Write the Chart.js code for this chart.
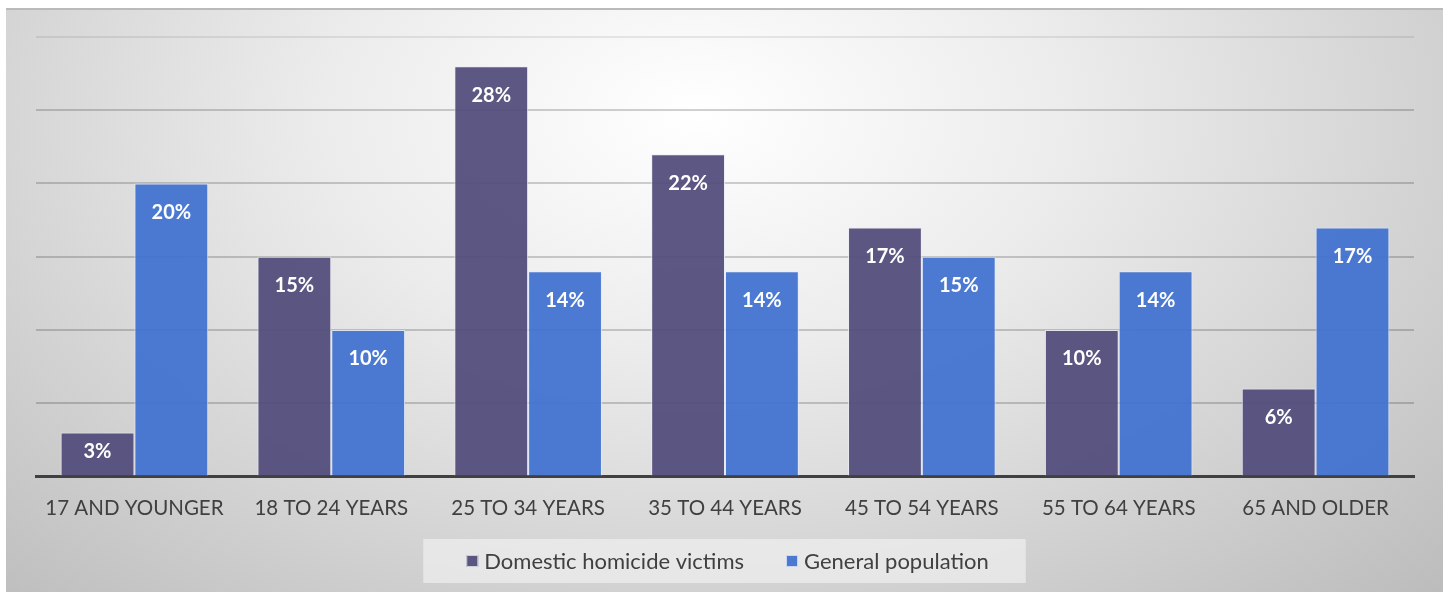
<!DOCTYPE html>
<html>
<head>
<meta charset="utf-8">
<script src="https://cdn.jsdelivr.net/npm/chart.js@4.4.1/dist/chart.umd.min.js"></script>
<style>
  html, body { margin: 0; padding: 0; background: #ffffff; }
  #frame {
    position: absolute; left: 6px; top: 8px; width: 1437px; height: 584px;
    border-top: 2px solid #bababa; box-sizing: border-box;
    background: radial-gradient(ellipse farthest-corner at 48% 18%, #ffffff 0%, #ececec 35%, #bcbcbc 100%);
  }
  #frame canvas { position: absolute; left: 0; top: 0; }
</style>
</head>
<body>
<div id="frame"><canvas id="chart" width="1437" height="582"></canvas></div>
<script>
const categories = ['17 AND YOUNGER', '18 TO 24 YEARS', '25 TO 34 YEARS', '35 TO 44 YEARS', '45 TO 54 YEARS', '55 TO 64 YEARS', '65 AND OLDER'];
const victims = [3, 15, 28, 22, 17, 10, 6];
const population = [20, 10, 14, 14, 15, 14, 17];
const seriesNames = ['Domestic homicide victims', 'General population'];

const FONT = 'Lato, "Open Sans", sans-serif';
const TEXT = '#404040';

// white bold labels just inside the top of each bar
const barLabels = {
  id: 'barLabels',
  afterDatasetsDraw(chart) {
    const ctx = chart.ctx;
    ctx.save();
    ctx.fillStyle = '#ffffff';
    ctx.font = 'bold 20px ' + FONT;
    ctx.textAlign = 'center';
    ctx.textBaseline = 'middle';
    chart.data.datasets.forEach((ds, i) => {
      chart.getDatasetMeta(i).data.forEach((bar, j) => {
        const y = Math.min(bar.y + 29, (bar.y + bar.base) / 2 - 2);
        ctx.fillText(ds.data[j] + '%', bar.x, y);
      });
    });
    ctx.restore();
  }
};

// legend on a light panel under the axis labels
const panelLegend = {
  id: 'panelLegend',
  afterDraw(chart) {
    const ctx = chart.ctx;
    const sets = chart.data.datasets;
    const box = 12, textGap = 6, itemGap = 42;
    ctx.save();
    ctx.font = '22px ' + FONT;
    const widths = sets.map(ds => box + textGap + ctx.measureText(ds.label).width);
    const total = widths.reduce((a, b) => a + b, 0) + itemGap * (sets.length - 1);
    const cy = chart.height - 31;
    let x = chart.width / 2 - total / 2 + 3;

    ctx.fillStyle = 'rgba(240,240,240,0.7)';
    ctx.fillRect(x - 43, cy - 22, total + 80, 44);

    ctx.textBaseline = 'middle';
    ctx.textAlign = 'left';
    sets.forEach((ds, i) => {
      ctx.fillStyle = ds.backgroundColor;
      ctx.fillRect(x, cy - box / 2, box, box);
      ctx.strokeStyle = 'rgba(255,255,255,0.7)';
      ctx.lineWidth = 1;
      ctx.strokeRect(x + 0.5, cy - box / 2 + 0.5, box - 1, box - 1);
      ctx.fillStyle = TEXT;
      ctx.fillText(ds.label, x + box + textGap, cy + 1);
      x += widths[i] + itemGap;
    });
    ctx.restore();
  }
};

new Chart(document.getElementById('chart'), {
  type: 'bar',
  data: {
    labels: categories,
    datasets: [
      {
        label: seriesNames[0],
        data: victims,
        backgroundColor: 'rgba(80,74,122,0.93)',
        borderColor: 'rgba(235,235,245,0.8)',
        borderWidth: 1,
      },
      {
        label: seriesNames[1],
        data: population,
        backgroundColor: 'rgba(63,113,208,0.93)',
        borderColor: 'rgba(225,235,255,0.8)',
        borderWidth: 1,
      },
    ],
  },
  options: {
    responsive: false,
    animation: false,
    layout: { padding: { left: 30, right: 29, top: 27, bottom: 59 } },
    datasets: { bar: { categoryPercentage: 0.75, barPercentage: 1 } },
    scales: {
      x: {
        grid: { display: false },
        border: { display: true, color: TEXT, width: 3 },
        ticks: { color: TEXT, font: { family: FONT, size: 20.5 }, padding: 12 },
      },
      y: {
        min: 0, max: 30,
        z: 1,
        ticks: { display: false, stepSize: 5 },
        border: { display: false },
        grid: {
          color: (c) => c.tick && c.tick.value === 30 ? 'rgba(0,0,0,0.08)' : 'rgba(0,0,0,0.18)',
          lineWidth: 2,
          drawTicks: false,
        },
      },
    },
    plugins: {
      legend: { display: false },
      tooltip: { enabled: false },
    },
  },
  plugins: [barLabels, panelLegend],
});
</script>
</body>
</html>
